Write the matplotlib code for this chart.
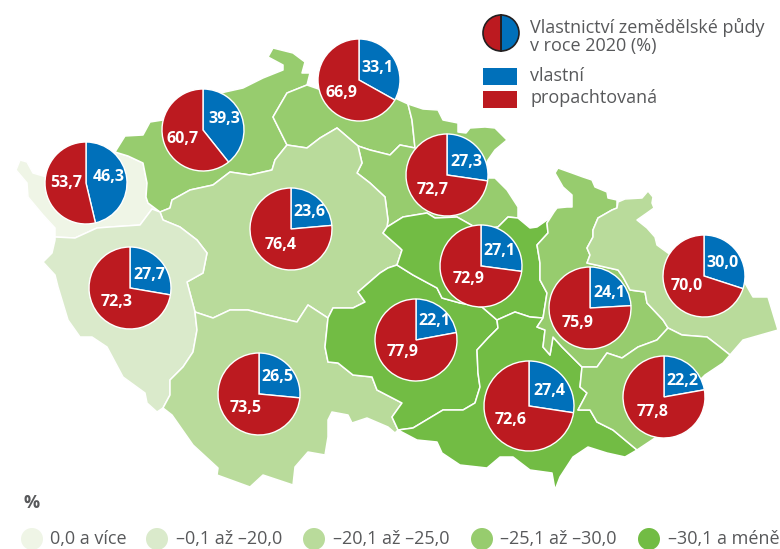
import matplotlib
matplotlib.use("Agg")
import matplotlib.pyplot as plt
from matplotlib.patches import Polygon, Rectangle, Circle, Wedge

plt.rcParams['font.family'] = ['Open Sans', 'DejaVu Sans']
W, H = 780, 549

own = [46.3, 39.3, 33.1, 27.7, 23.6, 27.3, 27.1, 22.1, 26.5, 27.4, 24.1, 30.0, 22.2]
rented = [53.7, 60.7, 66.9, 72.3, 76.4, 72.7, 72.9, 77.9, 73.5, 72.6, 75.9, 70.0, 77.8]
pie_cx = [86, 203, 359, 130, 291, 447, 481, 416, 259, 529, 590, 704, 664]
pie_cy = [183, 130, 80, 288, 229, 175, 266, 340, 394, 406, 308, 276, 397]
pie_r = [41, 41, 41, 41, 41, 41, 41, 41, 41, 45, 41, 41, 41]
own_lx = [109, 224, 377, 149, 309, 466, 499, 434, 277, 549, 609, 723, 682]
own_ly = [177, 119, 68, 275, 212, 162, 251, 321, 377, 391, 293, 263, 381]
ren_lx = [66, 183, 341, 117, 281, 433, 469, 403, 246, 511, 578, 687, 653]
ren_ly = [183, 139, 93, 302, 245, 190, 279, 352, 408, 420, 323, 286, 412]

legend_labels = ['0,0 a více', '–0,1 až –20,0', '–20,1 až –25,0', '–25,1 až –30,0', '–30,1 a méně']
legend_colors = ['#EFF5E6', '#DAEACB', '#B9DB9B', '#97CC6E', '#72BC44']
legend_cx = [32, 157, 314, 482, 649]
legend_tx = [50, 176, 333, 500, 668]

# shared borders, in picture coordinates
KV_UL = [(115,152),(128,156),(143,163),(147,183),(146,197),(148,203),(160,212)]
KV_PL = [(160,212),(152,209),(140,225),(110,227),(97,228),(75,238),(55,237)]
KV_OUT = [(55,237),(55,228),(43,215),(28,197),(27,183),(16,170),(20,160),(27,162),(33,173),(50,178),(80,160)]
UL_ST = [(160,212),(170,208),(172,200),(190,190),(213,185),(230,172),(250,175),(272,170),(275,160),(287,145)]
UL_LB = [(287,145),(273,117),(287,93),(307,85)]
UL_OUT = [(307,85),(310,73),(302,73),(305,62),(293,53),(273,48),(268,57),(283,65),(283,70),(263,78),(243,88),(225,92),(180,105),(163,120),(150,122),(143,135),(125,136),(115,152)]
LB_ST = [(287,145),(307,148),(320,138),(337,128),(358,146)]
LB_KH = [(358,146),(370,150),(390,155),(400,145),(415,148),(412,120),(408,104)]
LB_OUT = [(408,104),(395,98),(350,100),(307,85)]
KH_ST = [(358,146),(362,163),(357,173),(370,183),(385,197),(388,220),(387,227)]
KH_PA = [(387,227),(403,217),(427,213),(435,218),(457,217),(480,230),(498,227),(508,217),(518,218)]
KH_OUT = [(408,104),(423,109),(438,110),(443,120),(458,123),(458,132),(466,133),(470,128),(485,127),(495,128),(507,140),(495,150),(488,160),(480,178),(495,178),(507,190),(518,207),(518,218)]
ST_PA = [(387,227),(383,233),(400,248),(402,250),(397,265)]
ST_VY = [(397,265),(388,268),(380,273),(358,292),(365,302),(353,308),(333,308),(328,318)]
ST_JC = [(328,318),(308,305),(297,322),(267,315),(248,310),(230,310),(213,318),(195,312)]
ST_PL = [(195,312),(187,282),(203,273),(207,253),(197,240),(180,227),(163,220),(160,212)]
PL_JC = [(195,312),(197,330),(193,352),(183,367),(170,380),(170,395),(163,408)]
PL_OUT = [(163,408),(157,412),(147,403),(145,393),(123,377),(107,347),(92,337),(80,337),(68,320),(58,287),(55,275),(43,262),(52,253),(55,240),(55,237)]
JC_VY = [(328,318),(325,347),(328,362),(338,363),(353,375),(372,377),(377,390),(402,403),(392,417),(398,430)]
JC_OUT = [(398,430),(395,433),(388,427),(367,418),(352,423),(348,415),(332,412),(328,420),(328,437),(325,455),(308,452),(295,467),(293,485),(263,475),(250,487),(217,475),(218,468),(193,445),(172,415),(163,408)]
VY_PA = [(397,265),(413,275),(437,288),(442,298),(460,303),(482,307),(497,320)]
VY_JM = [(497,320),(498,328),(488,338),(477,350),(478,373),(480,387),(475,403),(463,410),(443,410),(423,422),(413,428),(398,430)]
PA_JM = [(497,320),(515,312),(530,317),(543,318)]
PA_OL = [(543,318),(547,293),(540,280),(540,263),(537,245),(548,233),(547,223),(554,212)]
PA_OUT = [(518,218),(530,228),(537,227),(547,220),(554,212)]
JM_OL = [(543,318),(537,327),(545,330),(543,347),(550,355),(553,337),(562,347),(570,355),(582,367)]
JM_ZL = [(582,367),(580,387),(587,393),(578,410),(590,410),(597,422),(613,430),(637,450)]
JM_OUT = [(637,450),(625,457),(607,453),(588,447),(573,457),(560,477),(555,490),(552,473),(530,470),(513,457),(500,457),(487,468),(460,465),(442,453),(437,442),(417,440),(398,430)]
OL_ZL = [(582,367),(597,367),(607,353),(622,358),(638,347),(657,340),(668,328)]
OL_MS = [(668,328),(663,320),(647,303),(645,292),(630,290),(623,277),(618,270),(587,263),(590,255),(587,248),(593,237),(593,230),(598,218),(612,210),(617,208)]
OL_OUT = [(617,208),(617,200),(608,198),(607,192),(595,187),(592,180),(583,177),(572,173),(558,168),(555,173),(563,187),(572,195),(572,207),(567,207),(557,208),(554,212)]
MS_OUT = [(617,208),(618,202),(625,199),(642,198),(648,191),(653,197),(652,203),(654,208),(647,213),(637,220),(647,228),(655,237),(657,245),(668,253),(700,265),(745,283),(753,297),(768,297),(778,330),(743,340),(730,355)]
MS_ZL = [(730,355),(720,347),(707,337),(682,335),(668,328)]
ZL_OUT = [(730,355),(723,363),(705,375),(680,400),(655,438),(637,450)]


def rev(c):
    return c[::-1]


regions = [
    (KV_UL + KV_PL[1:] + KV_OUT[1:], 0),
    (KV_UL + UL_ST[1:] + UL_LB[1:] + UL_OUT[1:], 3),
    (UL_LB + rev(LB_OUT)[1:] + rev(LB_KH)[1:] + rev(LB_ST)[1:], 3),
    (LB_KH + KH_OUT[1:] + rev(KH_PA)[1:] + rev(KH_ST)[1:], 3),
    (UL_ST + LB_ST[1:] + KH_ST[1:] + ST_PA[1:] + ST_VY[1:] + ST_JC[1:] + ST_PL[1:], 2),
    (KV_PL + rev(PL_OUT)[1:] + rev(PL_JC)[1:] + ST_PL[1:], 1),
    (ST_JC + PL_JC[1:] + rev(JC_OUT)[1:] + rev(JC_VY)[1:], 2),
    (ST_VY + JC_VY[1:] + rev(VY_JM)[1:] + rev(VY_PA)[1:], 4),
    (ST_PA + VY_PA[1:] + PA_JM[1:] + PA_OL[1:] + rev(PA_OUT)[1:] + rev(KH_PA)[1:], 4),
    (VY_JM + rev(JM_OUT)[1:] + rev(JM_ZL)[1:] + rev(JM_OL)[1:] + rev(PA_JM)[1:], 4),
    (PA_OL + OL_OUT[::-1][1:] + rev(OL_MS)[1:] + rev(OL_ZL)[1:] + rev(JM_OL)[1:], 3),
    (OL_MS + MS_OUT[1:] + MS_ZL[1:], 2),
    (OL_ZL + rev(MS_ZL)[1:] + ZL_OUT[1:] + rev(JM_ZL)[1:], 3),
]

BLUE, RED = '#0070BA', '#BC1A20'
GREY = '#58595B'

fig = plt.figure(figsize=(W / 100, H / 100), dpi=100)
ax = fig.add_axes([0, 0, 1, 1])
ax.set_xlim(0, W)
ax.set_ylim(H, 0)
ax.axis('off')

for pts, c in regions:
    ax.add_patch(Polygon(pts, closed=True, facecolor=legend_colors[c], edgecolor='white', lw=1.1, zorder=1, joinstyle='round'))

# pies: picture y grows downward, so angles are measured clockwise from +x
for o, r, cx, cy, rad in zip(own, rented, pie_cx, pie_cy, pie_r):
    split = -90 + 360 * o / (o + r)
    ax.add_patch(Wedge((cx, cy), rad, -90, split, facecolor=BLUE, edgecolor='white', lw=1.0, zorder=3))
    ax.add_patch(Wedge((cx, cy), rad, split, 270, facecolor=RED, edgecolor='white', lw=1.0, zorder=3))

for o, r, ox, oy, rx, ry in zip(own, rented, own_lx, own_ly, ren_lx, ren_ly):
    for v, x, y in ((o, ox, oy), (r, rx, ry)):
        ax.text(x, y, f'{v:.1f}'.replace('.', ','), color='white', fontsize=11.5, fontweight='bold',
                ha='center', va='center', zorder=4)

# key
ax.add_patch(Wedge((501, 33), 18, -90, 90, facecolor=BLUE, edgecolor='#231F20', lw=1.2, zorder=3))
ax.add_patch(Wedge((501, 33), 18, 90, 270, facecolor=RED, edgecolor='#231F20', lw=1.2, zorder=3))
ax.plot([501, 501], [15, 51], color='#231F20', lw=1.1, zorder=4)
ax.text(530, 27, 'Vlastnictví zemědělské půdy', color=GREY, fontsize=13, va='center', ha='left')
ax.text(530, 46, 'v roce 2020 (%)', color=GREY, fontsize=13, va='center', ha='left')
ax.add_patch(Rectangle((483, 68), 34, 17, facecolor=BLUE, edgecolor='none'))
ax.add_patch(Rectangle((483, 91), 34, 17, facecolor=RED, edgecolor='none'))
ax.text(530, 76, 'vlastní', color=GREY, fontsize=13, va='center', ha='left')
ax.text(530, 98, 'propachtovaná', color=GREY, fontsize=13, va='center', ha='left')

ax.text(32, 503, '%', color=GREY, fontsize=13, fontweight='bold', va='center', ha='center')
for lab, col, cx, tx in zip(legend_labels, legend_colors, legend_cx, legend_tx):
    ax.add_patch(Circle((cx, 539), 11, facecolor=col, edgecolor='none'))
    ax.text(tx, 539, lab, color=GREY, fontsize=13, va='center', ha='left')

fig.savefig('out.png', dpi=100)
